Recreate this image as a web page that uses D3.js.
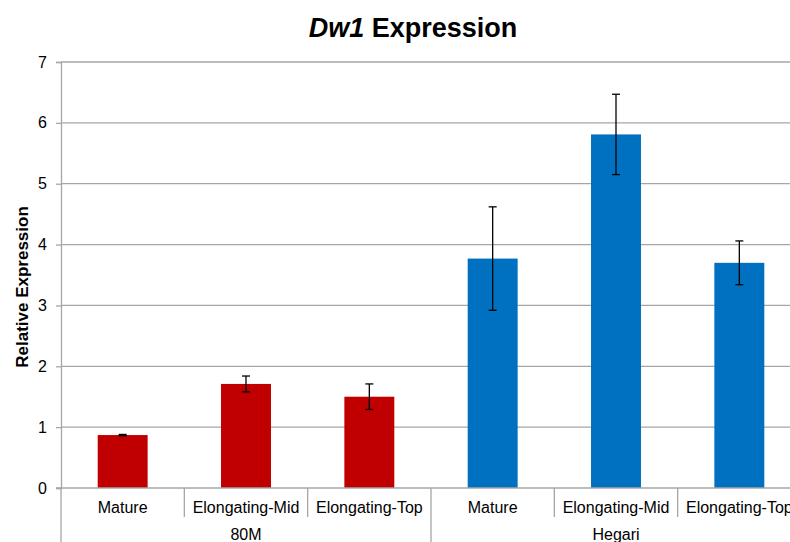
<!DOCTYPE html>
<html>
<head>
<meta charset="utf-8">
<script src="https://cdn.jsdelivr.net/npm/d3@7"></script>
<style>
  body { margin: 0; background: #fff; }
  svg { display: block; font-family: "Liberation Sans", Arial, sans-serif; }
</style>
</head>
<body>
<svg id="chart"></svg>
<script>
var groups = ["80M", "Hegari"];
var tissues = ["Mature", "Elongating-Mid", "Elongating-Top"];
var values80M = [0.87, 1.71, 1.50];
var errors80M = [0.01, 0.13, 0.21];
var valuesHegari = [3.77, 5.81, 3.70];
var errorsHegari = [0.85, 0.66, 0.36];
var yTicks = [0, 1, 2, 3, 4, 5, 6, 7];
var colors = { "80M": "#c00000", "Hegari": "#0070c0" };

var width = 790, height = 542;
var padding = { top: 62, right: -11, bottom: 54, left: 61 };

var rows = [];
groups.forEach(function(g, gi) {
  var vals = gi === 0 ? values80M : valuesHegari;
  var errs = gi === 0 ? errors80M : errorsHegari;
  tissues.forEach(function(t, ti) {
    rows.push({ group: g, tissue: t, key: g + "|" + t, value: vals[ti], err: errs[ti] });
  });
});

var svg = d3.select("#chart")
            .attr("width", width)
            .attr("height", height);

var xScale = d3.scaleBand()
               .domain(rows.map(d => d.key))
               .range([padding.left, width - padding.right])
               .padding(0);

var yScale = d3.scaleLinear()
               .domain([0, 7])
               .range([height - padding.bottom, padding.top]);

var barWidth = xScale.bandwidth() * 0.405;
var gridColor = "#a6a6a6";

// gridlines
svg.append("g")
    .selectAll("line")
    .data(yTicks.filter(d => d > 0))
    .enter()
    .append("line")
      .attr("x1", padding.left)
      .attr("x2", width - padding.right)
      .attr("y1", d => yScale(d))
      .attr("y2", d => yScale(d))
      .attr("stroke", gridColor)
      .attr("stroke-width", 1.3);

// y axis
var yAxis = d3.axisLeft(yScale)
              .tickValues(yTicks)
              .tickSize(5)
              .tickPadding(9)
              .tickFormat(d3.format("d"));

var yG = svg.append("g")
    .attr("transform", "translate(" + padding.left + ",0)")
    .call(yAxis);
yG.select(".domain").attr("stroke", gridColor).attr("stroke-width", 1.3);
yG.selectAll(".tick line").attr("stroke", gridColor).attr("stroke-width", 1.3);
yG.selectAll(".tick text")
    .attr("font-size", 16)
    .attr("fill", "#000")
    .attr("font-family", "Liberation Sans, Arial, sans-serif");

// bars
svg.append("g")
    .selectAll("rect")
    .data(rows)
    .enter()
    .append("rect")
      .attr("x", d => xScale(d.key) + (xScale.bandwidth() - barWidth) / 2)
      .attr("width", barWidth)
      .attr("y", d => yScale(d.value))
      .attr("height", d => yScale(0) - yScale(d.value))
      .attr("fill", d => colors[d.group]);

// error bars
var eb = svg.append("g")
    .selectAll("g")
    .data(rows)
    .enter()
    .append("g")
      .attr("stroke", "#000")
      .attr("stroke-width", 1.3);

eb.append("line")
    .attr("x1", d => xScale(d.key) + xScale.bandwidth() / 2)
    .attr("x2", d => xScale(d.key) + xScale.bandwidth() / 2)
    .attr("y1", d => yScale(d.value + d.err))
    .attr("y2", d => yScale(d.value - d.err));

[1, -1].forEach(function(s) {
  eb.append("line")
      .attr("x1", d => xScale(d.key) + xScale.bandwidth() / 2 - 4)
      .attr("x2", d => xScale(d.key) + xScale.bandwidth() / 2 + 4)
      .attr("y1", d => yScale(d.value + s * d.err))
      .attr("y2", d => yScale(d.value + s * d.err));
});

// x baseline
var base = yScale(0);
svg.append("line")
    .attr("x1", padding.left - 5)
    .attr("x2", width - padding.right)
    .attr("y1", base)
    .attr("y2", base)
    .attr("stroke", gridColor)
    .attr("stroke-width", 1.3);

// category separators
svg.append("g")
    .selectAll("line")
    .data(rows.concat([null]))
    .enter()
    .append("line")
      .attr("x1", (d, i) => d ? xScale(d.key) : width - padding.right)
      .attr("x2", (d, i) => d ? xScale(d.key) : width - padding.right)
      .attr("y1", base)
      .attr("y2", (d, i) => i % 3 === 0 ? height : base + 29)
      .attr("stroke", gridColor)
      .attr("stroke-width", 1.3);

// category labels
svg.append("g")
    .selectAll("text")
    .data(rows)
    .enter()
    .append("text")
      .attr("x", d => xScale(d.key) + xScale.bandwidth() / 2)
      .attr("y", base + 25)
      .attr("text-anchor", "middle")
      .attr("font-size", 16)
      .text(d => d.tissue);

// group labels
svg.append("g")
    .selectAll("text")
    .data(groups)
    .enter()
    .append("text")
      .attr("x", g => {
        var keys = rows.filter(d => d.group === g).map(d => d.key);
        return (xScale(keys[0]) + xScale(keys[keys.length - 1]) + xScale.bandwidth()) / 2;
      })
      .attr("y", base + 52)
      .attr("text-anchor", "middle")
      .attr("font-size", 16)
      .text(g => g);

// y axis label
svg.append("text")
    .attr("transform", "rotate(-90)")
    .attr("x", -287)
    .attr("y", 28)
    .attr("text-anchor", "middle")
    .attr("font-size", 17)
    .attr("font-weight", "bold")
    .text("Relative Expression");

// title
var title = svg.append("text")
    .attr("x", 413)
    .attr("y", 37)
    .attr("text-anchor", "middle")
    .attr("font-size", 27)
    .attr("font-weight", "bold");
title.append("tspan").attr("font-style", "italic").text("Dw1");
title.append("tspan").text(" Expression");
</script>
</body>
</html>
